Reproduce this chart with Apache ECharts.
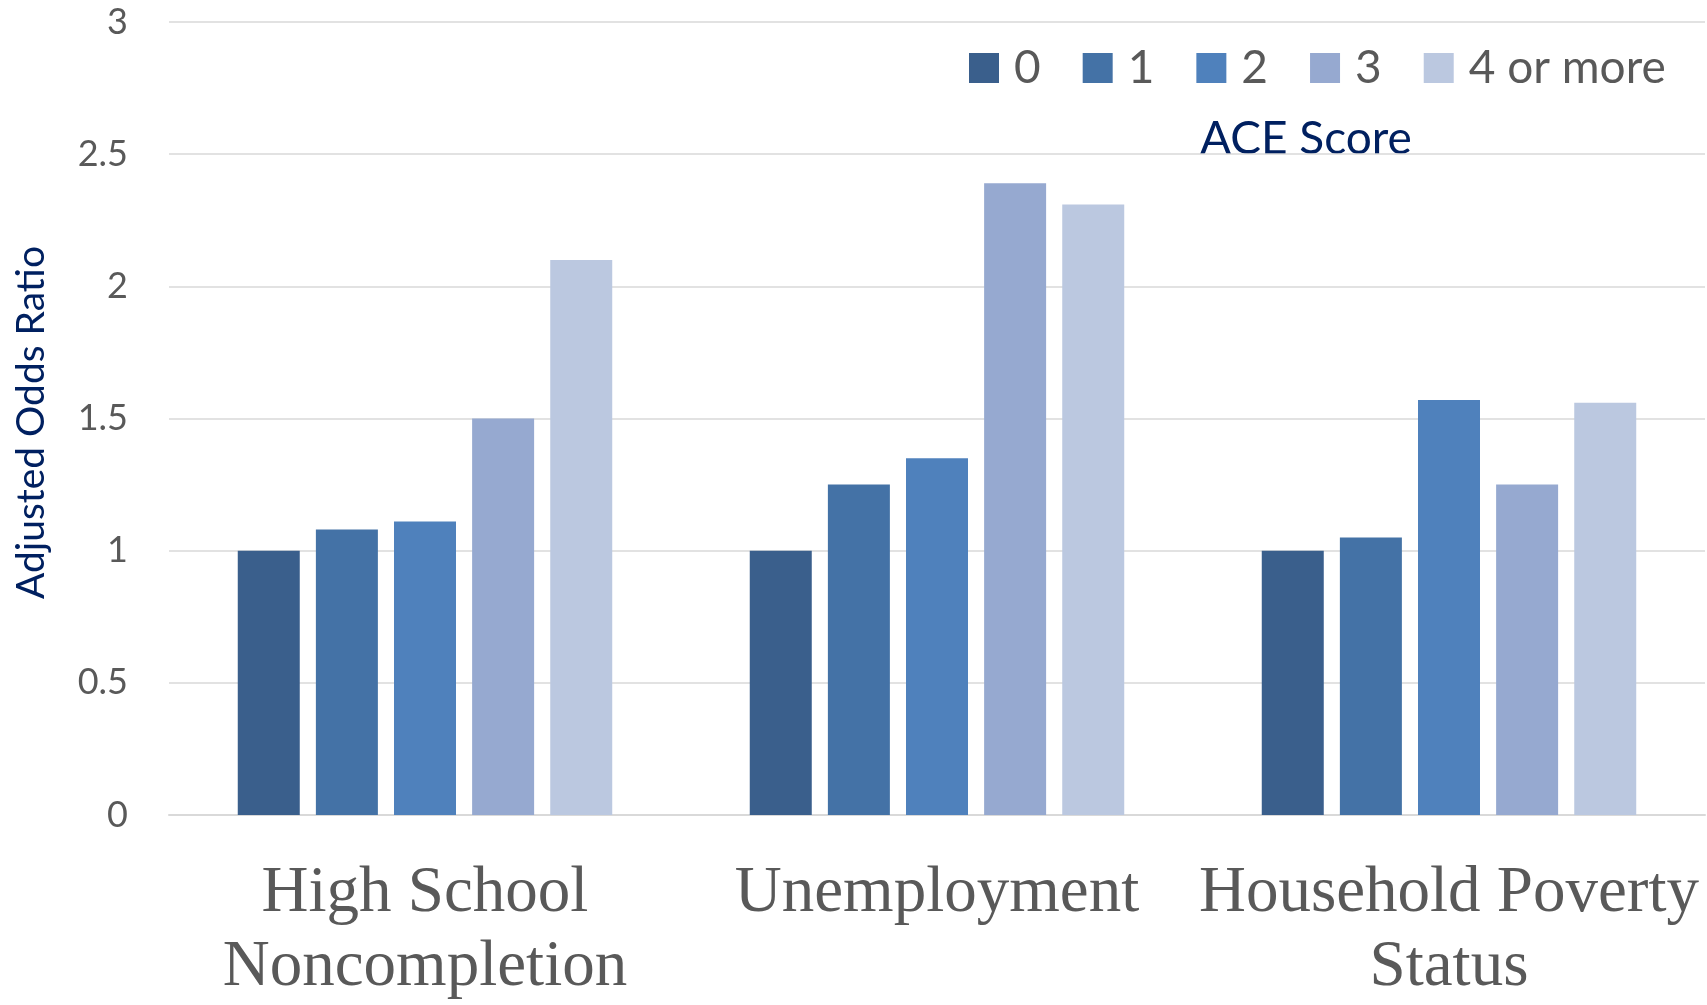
<!DOCTYPE html>
<html>
<head>
<meta charset="utf-8">
<script src="https://cdn.jsdelivr.net/npm/echarts@6/dist/echarts.min.js"></script>
<style>
html,body{margin:0;padding:0;background:#fff;}
#chart{width:1707px;height:1005px;}
</style>
</head>
<body>
<div id="chart"></div>
<script>
const categories = ['High School\nNoncompletion', 'Unemployment', 'Household Poverty\nStatus'];
const seriesNames = ['0', '1', '2', '3', '4 or more'];
const score0 = [1.00, 1.00, 1.00];
const score1 = [1.08, 1.25, 1.05];
const score2 = [1.11, 1.35, 1.57];
const score3 = [1.50, 2.39, 1.25];
const score4plus = [2.10, 2.31, 1.56];
const yTicks = [0, 0.5, 1, 1.5, 2, 2.5, 3];

const seriesData = [score0, score1, score2, score3, score4plus];
const colors = ['#3A5F8C', '#4472A6', '#4F81BC', '#96A9D0', '#BBC8E0'];

const chart = echarts.init(document.getElementById('chart'));
chart.setOption({
  animation: false,
  backgroundColor: '#fff',
  color: colors,
  grid: { left: 169, right: 2, top: 22, bottom: 180, containLabel: false },
  legend: {
    data: seriesNames,
    left: 964,
    top: 40,
    icon: 'rect',
    itemWidth: 30,
    itemHeight: 30,
    itemGap: 42,
    textStyle: { fontFamily: 'Lato', fontSize: 46, color: '#595959', lineHeight: 46, padding: [0, 0, 0, 10] }
  },
  graphic: [{
    type: 'text',
    left: 1200,
    top: 116,
    style: { text: 'ACE Score', font: '46px Lato', fill: '#002060' }
  }],
  xAxis: {
    type: 'category',
    data: categories,
    axisLine: { show: true, lineStyle: { color: '#D9D9D9', width: 2 } },
    axisTick: { show: false },
    axisLabel: { fontFamily: 'Liberation Serif', fontSize: 65, lineHeight: 74, color: '#595959', margin: 42, interval: 0 }
  },
  yAxis: {
    type: 'value',
    min: 0,
    max: 3,
    interval: 0.5,
    name: 'Adjusted Odds Ratio',
    nameLocation: 'middle',
    nameRotate: 90,
    nameGap: 118,
    nameTextStyle: { fontFamily: 'Lato', fontSize: 39, color: '#002060', padding: [0, 8, 0, 0] },
    axisLine: { show: false },
    axisTick: { show: false },
    splitLine: { lineStyle: { color: '#D9D9D9', width: 1.5 } },
    axisLabel: {
      fontFamily: 'Lato', fontSize: 36, color: '#595959', margin: 41,
      formatter: v => yTicks.includes(v) ? String(v) : ''
    }
  },
  series: seriesNames.map((name, i) => ({
    name: name,
    type: 'bar',
    data: seriesData[i],
    barWidth: 62,
    barGap: '26%',
    itemStyle: { color: colors[i] }
  }))
});
</script>
</body>
</html>
